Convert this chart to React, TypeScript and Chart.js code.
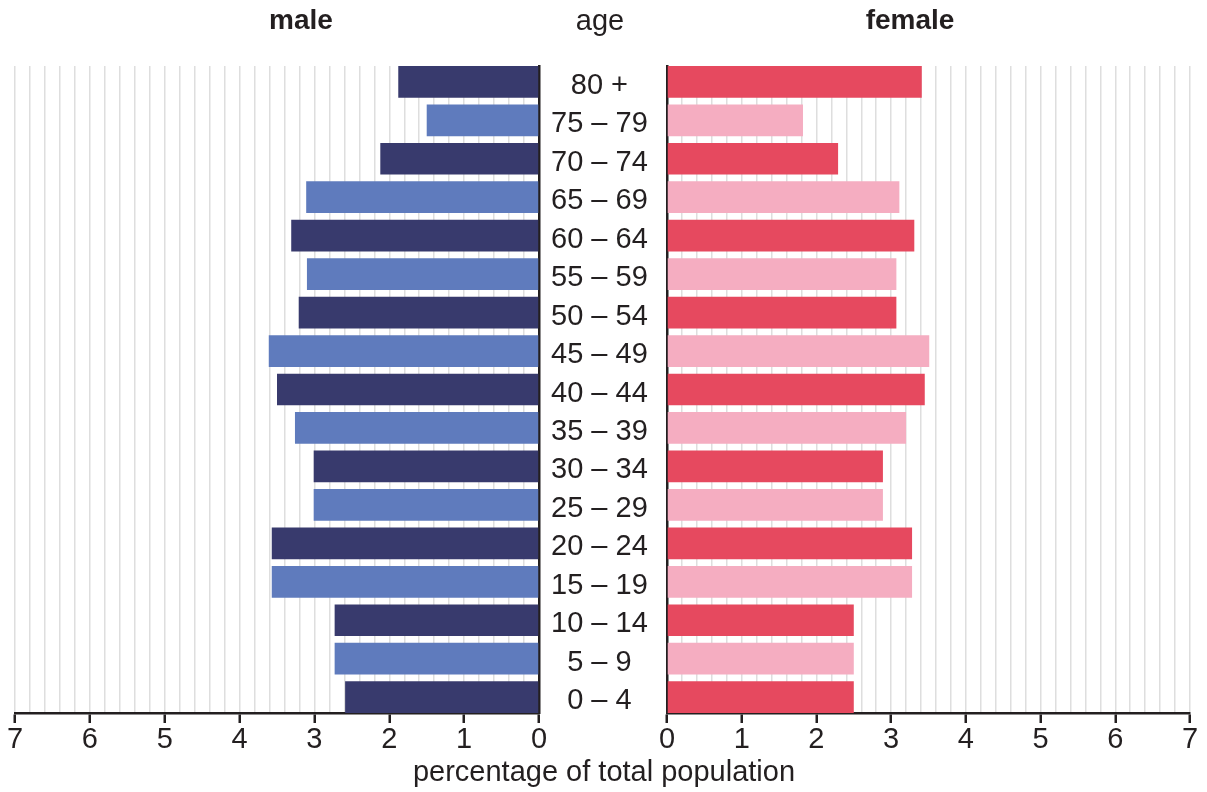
import React, { useEffect, useRef } from 'react';
import { Chart, registerables } from 'chart.js';

Chart.register(...registerables);

// ---- data ----
const ageGroups = [
  '80 +', '75 – 79', '70 – 74', '65 – 69', '60 – 64', '55 – 59', '50 – 54', '45 – 49', '40 – 44',
  '35 – 39', '30 – 34', '25 – 29', '20 – 24', '15 – 19', '10 – 14', '5 – 9', '0 – 4',
];
const maleValues = [1.88, 1.5, 2.12, 3.11, 3.31, 3.1, 3.21, 3.61, 3.5, 3.26, 3.01, 3.01, 3.57, 3.57, 2.73, 2.73, 2.59];
const femaleValues = [3.41, 1.82, 2.29, 3.11, 3.31, 3.07, 3.07, 3.51, 3.45, 3.2, 2.89, 2.89, 3.28, 3.28, 2.5, 2.5, 2.5];
const axisMax = 7;
const gridStep = 0.2;

// ---- styles ----
const FONT = "'Liberation Sans', Arial, Helvetica, sans-serif";
const TEXT = '#231f20';
const GRID = '#dedede';
const MALE_DARK = '#383a6d';
const MALE_LIGHT = '#5f7bbd';
const FEMALE_DARK = '#e6495f';
const FEMALE_LIGHT = '#f5adc1';
const BAR_FILL = 0.824;

Chart.defaults.font.family = FONT;

const isInt = (v: number) => Math.abs(v - Math.round(v)) < 1e-6;

function xScale(reverse: boolean) {
  return {
    type: 'linear' as const,
    reverse,
    min: 0,
    max: axisMax,
    offset: false,
    afterFit: (s: any) => {
      s.height = 60;
    },
    ticks: {
      stepSize: gridStep,
      maxTicksLimit: 100,
      autoSkip: false,
      maxRotation: 0,
      padding: 0,
      color: TEXT,
      font: { size: 29 },
      callback: (v: any) => (isInt(Number(v)) ? String(Math.round(Number(v))) : ''),
    },
    grid: {
      offset: false,
      color: (ctx: any) => (ctx.tick && Math.abs(ctx.tick.value) < 1e-6 ? 'rgba(0,0,0,0)' : GRID),
      lineWidth: 1.5,
      drawTicks: true,
      tickLength: 10,
      tickWidth: 2.5,
      tickColor: (ctx: any) => (ctx.tick && isInt(ctx.tick.value) ? TEXT : 'rgba(0,0,0,0)'),
    },
    border: { display: true, color: TEXT, width: 2.5 },
  };
}

function yScale(showLabels: boolean, position: 'left' | 'right', width: number) {
  return {
    type: 'linear' as const,
    position,
    reverse: true,
    offset: false,
    bounds: 'data' as const,
    min: -BAR_FILL / 2,
    max: ageGroups.length - 1 + BAR_FILL / 2,
    afterBuildTicks: (s: any) => {
      s.ticks = ageGroups.map((_, i) => ({ value: i }));
    },
    afterFit: (s: any) => {
      s.width = width;
    },
    ticks: {
      display: showLabels,
      autoSkip: false,
      crossAlign: 'center' as const,
      padding: 12,
      labelOffset: 4,
      color: TEXT,
      font: { size: 29 },
      callback: (v: any) => ageGroups[Number(v)] ?? '',
    },
    grid: { display: false, drawTicks: false, offset: false },
    border: { display: true, color: TEXT, width: 2.5 },
  };
}

function makeConfig(values: number[], dark: string, light: string, left: boolean): any {
  return {
    type: 'bar',
    data: {
      datasets: [
        {
          data: values.map((v, i) => ({ x: v, y: i })),
          backgroundColor: (ctx: any) => (ctx.dataIndex % 2 === 0 ? dark : light),
          borderWidth: 0,
          barPercentage: BAR_FILL,
          categoryPercentage: 1,
        },
      ],
    },
    options: {
      indexAxis: 'y',
      animation: false,
      responsive: true,
      maintainAspectRatio: false,
      layout: {
        padding: left
          ? { left: 15, right: 0, top: 66, bottom: 19 }
          : { left: 27, right: 17, top: 66, bottom: 19 },
      },
      plugins: { legend: { display: false }, tooltip: { enabled: false }, title: { display: false } },
      scales: {
        x: xScale(left),
        y: left ? yScale(true, 'right', 128) : yScale(false, 'left', 0),
      },
    },
  };
}

function ChartCanvas({ config, style }: { config: any; style: React.CSSProperties }) {
  const ref = useRef<HTMLCanvasElement>(null);
  useEffect(() => {
    if (!ref.current) return;
    const chart = new Chart(ref.current, config);
    return () => chart.destroy();
  }, [config]);
  return (
    <div style={{ position: 'absolute', ...style }}>
      <canvas ref={ref} />
    </div>
  );
}

const leftConfig = makeConfig(maleValues, MALE_DARK, MALE_LIGHT, true);
const rightConfig = makeConfig(femaleValues, FEMALE_DARK, FEMALE_LIGHT, false);

const textBase: React.CSSProperties = {
  position: 'absolute',
  fontFamily: FONT,
  color: TEXT,
  textAlign: 'center',
  whiteSpace: 'nowrap',
  height: 40,
  lineHeight: '40px',
};

export default function App() {
  return (
    <div style={{ position: 'absolute', left: 0, top: 0, width: 1207, height: 792, background: '#fff', overflow: 'hidden' }}>
      <ChartCanvas config={leftConfig} style={{ left: 0, top: 0, width: 667, height: 792 }} />
      <ChartCanvas config={rightConfig} style={{ left: 640, top: 0, width: 567, height: 792 }} />
      <div style={{ ...textBase, left: 201, width: 200, top: 0, fontSize: 28, fontWeight: 'bold' }}>male</div>
      <div style={{ ...textBase, left: 500, width: 200, top: 0, fontSize: 29 }}>age</div>
      <div style={{ ...textBase, left: 810, width: 200, top: 0, fontSize: 28, fontWeight: 'bold' }}>female</div>
      <div style={{ ...textBase, left: 354, width: 500, top: 751, fontSize: 29 }}>percentage of total population</div>
    </div>
  );
}
